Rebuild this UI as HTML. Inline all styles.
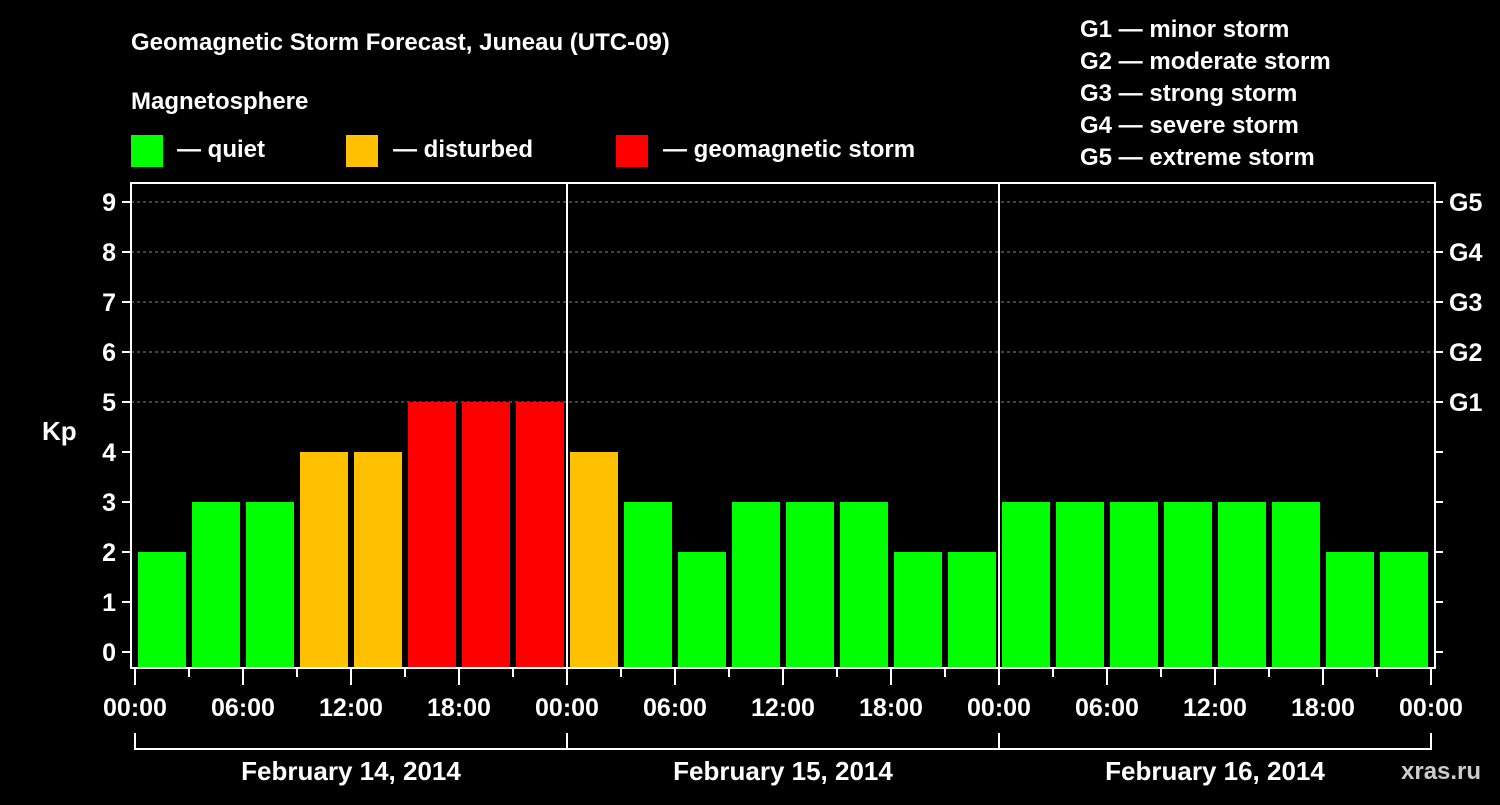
<!DOCTYPE html>
<html><head><meta charset="utf-8"><style>
body{margin:0;background:#000;width:1500px;height:800px;overflow:hidden}
svg text{font-family:"Liberation Sans",sans-serif;font-weight:bold;fill:#fff}
</style></head><body>
<svg id="c" width="1500" height="800" xmlns="http://www.w3.org/2000/svg">
<rect width="1500" height="800" fill="#000"/>
<text x="131" y="50" font-size="24">Geomagnetic Storm Forecast, Juneau (UTC-09)</text>
<text x="131" y="109" font-size="24">Magnetosphere</text>
<g><rect x="131" y="135" width="32" height="32" fill="#00ff00"/><text x="177" y="157" font-size="24">— quiet</text></g>
<g><rect x="346" y="135" width="32" height="32" fill="#ffc000"/><text x="393" y="157" font-size="24">— disturbed</text></g>
<g><rect x="616" y="135" width="32" height="32" fill="#ff0000"/><text x="663" y="157" font-size="24">— geomagnetic storm</text></g>
<g font-size="24">
<text x="1080" y="37">G1 — minor storm</text>
<text x="1080" y="69">G2 — moderate storm</text>
<text x="1080" y="101">G3 — strong storm</text>
<text x="1080" y="133">G4 — severe storm</text>
<text x="1080" y="165">G5 — extreme storm</text>
</g>
<text x="42" y="440" font-size="26">Kp</text>
<text x="1401" y="779" font-size="24" fill="#ccc" style="fill:#ccc">xras.ru</text>
<g id="plot"></g>
</svg>
<script>
const values=[2,3,3,4,4,5,5,5, 4,3,2,3,3,3,2,2, 3,3,3,3,3,3,2,2];
const dayLabels=["February 14, 2014","February 15, 2014","February 16, 2014"];
const timeLabels=["00:00","06:00","12:00","18:00"];
const yTicks=[0,1,2,3,4,5,6,7,8,9];
const gLabels=["G1","G2","G3","G4","G5"];
const NS="http://www.w3.org/2000/svg";
const g=document.getElementById('plot');
const x0=135,dayW=432,slot=dayW/8;
const xs=i=>x0+slot*i;
const ys=k=>652-50*k;
function mk(t,a,p){const e=document.createElementNS(NS,t);for(const k in a)e.setAttribute(k,a[k]);(p||g).appendChild(e);return e;}
// grid
for(const k of yTicks){
  if(k>=5){const l=mk('line',{x1:131,x2:1435,y1:ys(k),y2:ys(k),stroke:'#888','stroke-dasharray':'3,3','stroke-width':1});
  
  }
  const tl=mk('line',{x1:122,x2:131,y1:ys(k),y2:ys(k),stroke:'#fff','stroke-width':2});
  
  
  const tr=mk('line',{x1:1435,x2:1443,y1:ys(k),y2:ys(k),stroke:'#fff','stroke-width':2});
  
  
  const t=mk('text',{x:116,y:ys(k)+9,'text-anchor':'end','font-size':25});t.textContent=k;
  
  
}
gLabels.forEach((s,i)=>{const t=mk('text',{x:1449,y:ys(5+i)+9,'font-size':25});t.textContent=s;
  
  });
// bars
values.forEach((v,i)=>{
  const c=v>=5?'#ff0000':(v>=4?'#ffc000':'#00ff00');
  const r=mk('rect',{x:xs(i)+3,y:ys(v),width:slot-6,height:668-ys(v),fill:c});
  
  
});
// frame and day separators
const fr=mk('rect',{x:131,y:183,width:1304,height:485,fill:'none',stroke:'#fff','stroke-width':2});


for(let d=1;d<3;d++){const l=mk('line',{x1:x0+dayW*d,x2:x0+dayW*d,y1:183,y2:668,stroke:'#fff','stroke-width':2});
  
  }
// x ticks
for(let i=0;i<=24;i++){
  const big=i%2==0;
  const l=mk('line',{x1:xs(i),x2:xs(i),y1:668,y2:big?685:677,stroke:'#fff','stroke-width':2});
  
  
  if(big){const t=mk('text',{x:xs(i),y:716,'text-anchor':'middle','font-size':25});t.textContent=timeLabels[(i/2)%4];
    
    }
}
// day brackets
const br=mk('path',{d:`M${x0},733 V749 H${x0+3*dayW} V733 M${x0+dayW},733 V749 M${x0+2*dayW},733 V749`,fill:'none',stroke:'#fff','stroke-width':2});


dayLabels.forEach((s,d)=>{const t=mk('text',{x:x0+dayW*d+dayW/2,y:780,'text-anchor':'middle','font-size':26});t.textContent=s;
  
  });
</script>
</body></html>
